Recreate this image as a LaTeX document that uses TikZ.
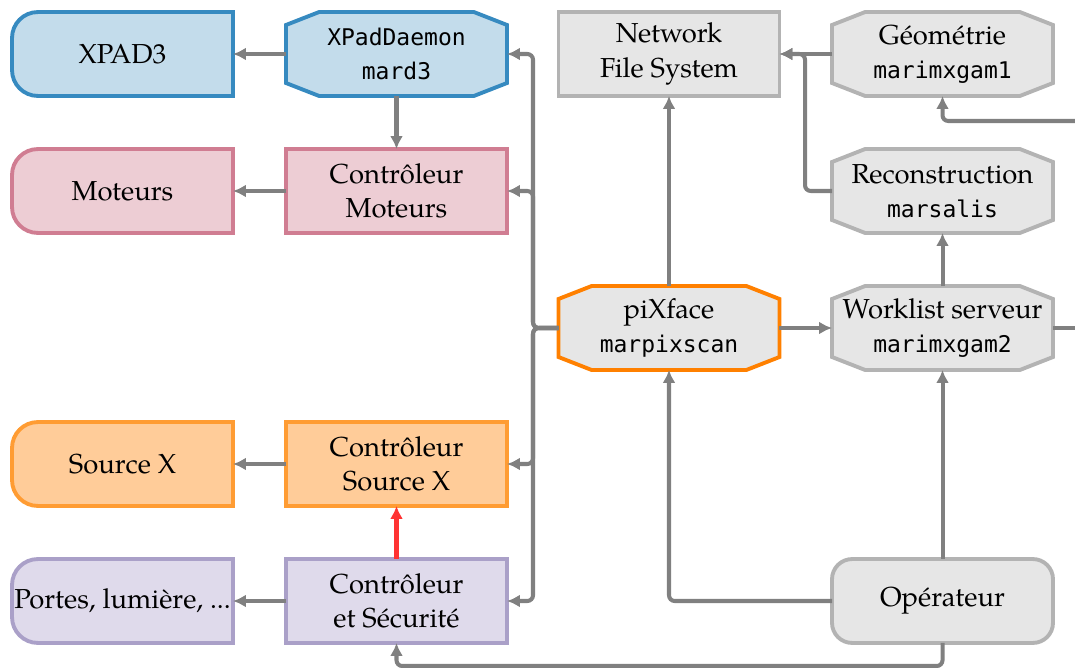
\documentclass[tikz,border=0pt]{standalone}
\usepackage{fontspec}
\setmainfont{TeX Gyre Pagella}[Scale=0.955]
\setmonofont{DejaVu Sans Mono}
\usetikzlibrary{arrows.meta, backgrounds}
\definecolor{fillblue}{RGB}{195,220,235}
\definecolor{lineblue}{RGB}{54,138,192}
\definecolor{fillpink}{RGB}{237,205,212}
\definecolor{linepink}{RGB}{208,125,146}
\definecolor{fillorange}{RGB}{255,204,153}
\definecolor{lineorange}{RGB}{255,156,51}
\definecolor{fillpurple}{RGB}{223,218,235}
\definecolor{linepurple}{RGB}{170,160,200}
\definecolor{fillgray}{RGB}{230,230,230}
\definecolor{linegray}{RGB}{179,179,179}
\definecolor{linkgray}{RGB}{128,128,128}
\definecolor{pixorange}{RGB}{255,128,0}
\definecolor{linkred}{RGB}{255,51,51}
\newcommand{\prog}[1]{{\ttfamily\fontsize{8}{12}\selectfont #1}}

\begin{document}
\begin{tikzpicture}[x=0.348pt,y=-0.348pt,
  box/.style={minimum width=76.9pt,minimum height=29.2pt,inner sep=0pt,outer sep=0pt,align=center,line width=1.35pt},
  ctrl/.style={box,draw=line#1,fill=fill#1},
  user/.style={box,rounded corners=7pt,draw=linegray,fill=fillgray},
  link/.style={linkgray,line width=1.4pt,rounded corners=2pt},
  conn/.style={link,-{Latex[length=4.5pt,width=4.5pt]}}]
  \useasboundingbox (0,0) rectangle (1075,668);
  \clip (0,0) rectangle (1075,668);
  % devices
  \node[box] (xpad) at(122.5,54){XPAD3};
  \node[box] (mot) at(122.5,191){Moteurs};
  \node[box] (srcx) at(122.5,464){Source X};
  \node[box] (portes) at(122.5,601){Portes, lumière, ...};
  % controllers
  \node[box] (xpd) at(396.5,54){\prog{XPadDaemon}\\\prog{mard3}};
  \node[ctrl=pink] (cmot) at(396.5,191){Contrôleur\\Moteurs};
  \node[ctrl=orange] (csrc) at(396.5,464){Contrôleur\\Source X};
  \node[ctrl=purple] (csec) at(396.5,601){Contrôleur\\et Sécurité};
  % computers
  \node[ctrl=gray] (nfs) at(669,54){Network\\File System};
  \node[box] (pix) at(669,328){piXface\\\prog{marpixscan}};
  \node[box] (geo) at(942.5,54){Géométrie\\\prog{marimxgam1}};
  \node[box] (rec) at(942.5,191){Reconstruction\\\prog{marsalis}};
  \node[box] (wl) at(942.5,328){Worklist serveur\\\prog{marimxgam2}};
  \node[user] (op) at(942.5,601){Opérateur};
  \begin{scope}[on background layer]
    % left-rounded device shapes
    \foreach \n/\c in {xpad/blue,mot/pink,srcx/orange,portes/purple}
      \filldraw[draw=line\c,fill=fill\c,line width=1.35pt]
        (\n.north east) -- ([xshift=9pt]\n.north west) arc[start angle=90,end angle=180,radius=9pt]
        -- ([yshift=9pt]\n.south west) arc[start angle=180,end angle=270,radius=9pt]
        -- (\n.south east) -- cycle;
    % octagons for programs
    \foreach \n/\f/\d in {xpd/fillblue/lineblue,pix/fillgray/pixorange,geo/fillgray/linegray,rec/fillgray/linegray,wl/fillgray/linegray}
      \filldraw[draw=\d,fill=\f,line width=1.35pt]
        ([xshift=11.5pt]\n.north west) -- ([xshift=-11.5pt]\n.north east)
        -- ([yshift=-4.5pt]\n.north east) -- ([yshift=4.5pt]\n.south east)
        -- ([xshift=-11.5pt]\n.south east) -- ([xshift=11.5pt]\n.south west)
        -- ([yshift=4.5pt]\n.south west) -- ([yshift=-4.5pt]\n.north west) -- cycle;
  \end{scope}
  % controllers to devices
  \draw[conn] (xpd.west) -- (xpad.east);
  \draw[conn] (xpd.south) -- (cmot.north);
  \draw[conn] (cmot.west) -- (mot.east);
  \draw[conn] (csrc.west) -- (srcx.east);
  \draw[conn] (csec.west) -- (portes.east);
  \draw[conn,linkred] (csec.north) -- (csrc.south);
  % bus from piXface
  \coordinate (bus) at(533,328);
  \foreach \t in {xpd,cmot,csrc,csec}
    \draw[conn] (pix.west) -- (bus) |- (\t.east);
  % network side
  \draw[conn] (pix.north) -- (nfs.south);
  \draw[conn] (geo.west) -- (nfs.east);
  \draw[conn] (rec.west) -- ++(-27,0) |- (nfs.east);
  \draw[conn] (wl.north) -- (rec.south);
  \draw[conn] (pix.east) -- (wl.west);
  \draw[conn] (op.north) -- (wl.south);
  \draw[conn] (op.west) -| (pix.south);
  \coordinate (bottom) at(942.5,666);
  \draw[conn] (op.south) -- (bottom) -| (csec.south);
  % links leaving on the right
  \coordinate (outwl) at(1090,328);
  \coordinate (ingeo) at(1090,121);
  \draw[link] (wl.east) -- (outwl);
  \draw[conn] (ingeo) -| (geo.south);
\end{tikzpicture}
\end{document}
